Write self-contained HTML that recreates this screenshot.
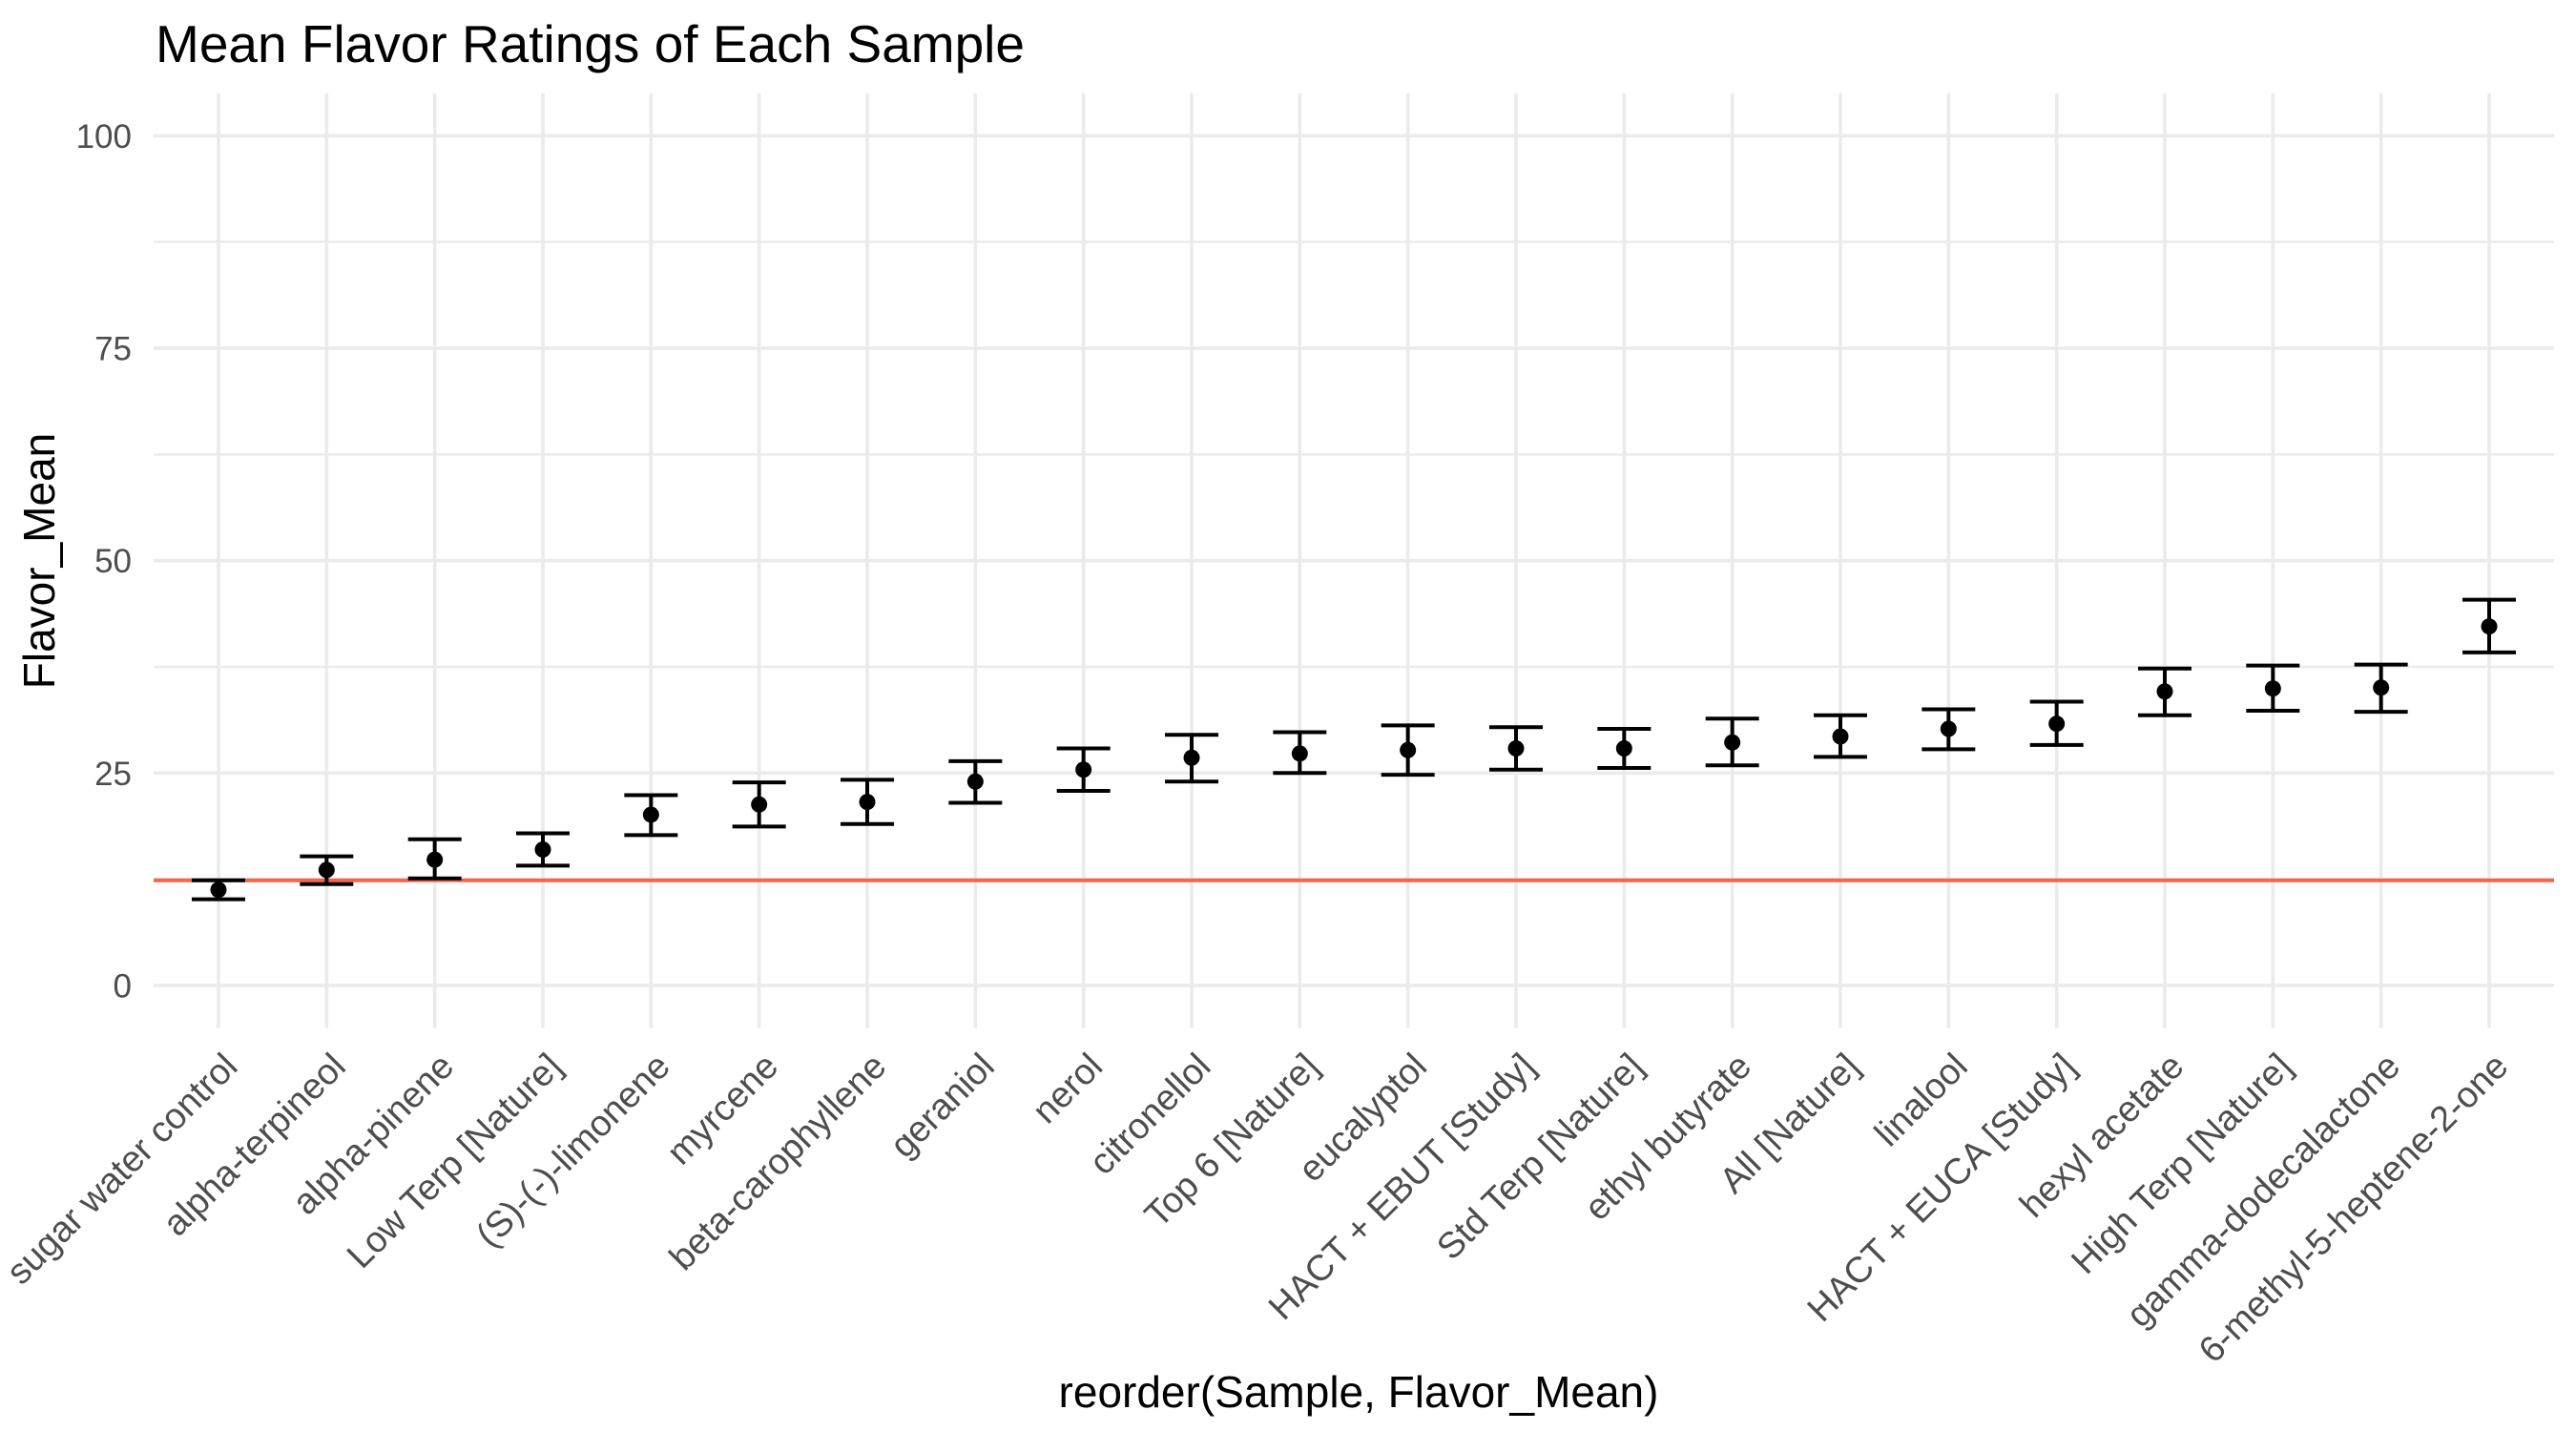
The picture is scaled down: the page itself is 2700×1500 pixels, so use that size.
<!DOCTYPE html>
<html><head><meta charset="utf-8"><style>
html,body{margin:0;padding:0;background:#fff;}
svg{display:block;font-family:"Liberation Sans",Arial,sans-serif;}
</style></head><body>
<svg id="chart" width="2700" height="1500" viewBox="0 0 2700 1500">
<text x="163" y="65" font-size="55" fill="#000">Mean Flavor Ratings of Each Sample</text>
<g id="grid"></g>
<g id="marks"></g>
<g id="labels"></g>
<text x="1424" y="1475" font-size="46" fill="#000" text-anchor="middle">reorder(Sample, Flavor_Mean)</text>
<text transform="translate(57,588) rotate(-90)" font-size="46" fill="#000" text-anchor="middle">Flavor_Mean</text>
</svg>
<script>
const categories = ["sugar water control","alpha-terpineol","alpha-pinene","Low Terp [Nature]","(S)-(-)-limonene","myrcene","beta-carophyllene","geraniol","nerol","citronellol","Top 6 [Nature]","eucalyptol","HACT + EBUT [Study]","Std Terp [Nature]","ethyl butyrate","All [Nature]","linalool","HACT + EUCA [Study]","hexyl acetate","High Terp [Nature]","gamma-dodecalactone","6-methyl-5-heptene-2-one"];
const means = [11.26,13.6,14.8,16.0,20.1,21.3,21.6,24.0,25.4,26.8,27.3,27.7,27.9,27.9,28.6,29.3,30.2,30.8,34.6,34.95,35.06,42.25];
const upper = [12.38,15.2,17.2,17.9,22.4,23.9,24.2,26.4,27.9,29.5,29.8,30.6,30.4,30.2,31.4,31.8,32.5,33.4,37.3,37.65,37.76,45.4];
const lower = [10.14,11.93,12.6,14.1,17.7,18.7,19.0,21.5,22.9,24.0,25.0,24.8,25.4,25.6,25.9,26.9,27.8,28.3,31.8,32.33,32.2,39.2];
const yTicks = [0,25,50,75,100];
const yMinor = [12.5,37.5,62.5,87.5];
const refLine = [12.38];

const NS="http://www.w3.org/2000/svg";
const L=161,R=2677,T=97.8,B=1077.5;
const n=categories.length;
function xs(i){return L+(i+0.6)*(R-L)/(n-1+1.2);}
function ys(v){return B-(v+5)*(B-T)/110;}
function mk(tag,attrs,parent){const e=document.createElementNS(NS,tag);for(const k in attrs)e.setAttribute(k,attrs[k]);parent.appendChild(e);return e;}
const grid=document.getElementById('grid'),marks=document.getElementById('marks'),labels=document.getElementById('labels');
yMinor.forEach(v=>{const e=mk('line',{x1:L,x2:R,y1:ys(v),y2:ys(v),stroke:'#ebebeb','stroke-width':2.5},grid);

});
yTicks.forEach(v=>{const e=mk('line',{x1:L,x2:R,y1:ys(v),y2:ys(v),stroke:'#ebebeb','stroke-width':3.6},grid);


const t=mk('text',{x:138,y:ys(v)+12.5,'font-size':35,fill:'#4d4d4d','text-anchor':'end'},labels);t.textContent=v;

});
categories.forEach((c,i)=>{const x=xs(i);
const g=mk('line',{x1:x,x2:x,y1:T,y2:B,stroke:'#ebebeb','stroke-width':3.6},grid);


const t=mk('text',{transform:`translate(${x+22},1120) rotate(-45)`,'font-size':38,fill:'#4d4d4d','text-anchor':'end'},labels);t.textContent=c;

});
refLine.forEach(v=>{const e=mk('line',{x1:L,x2:R,y1:ys(v),y2:ys(v),stroke:'#f9634a','stroke-width':4},marks);

});
const hw=0.247*(R-L)/(n-1+1.2);
categories.forEach((c,i)=>{const x=xs(i);
const g=mk('g',{},marks);


mk('line',{x1:x,x2:x,y1:ys(upper[i]),y2:ys(lower[i]),stroke:'#000','stroke-width':4},g);
mk('line',{x1:x-hw,x2:x+hw,y1:ys(upper[i]),y2:ys(upper[i]),stroke:'#000','stroke-width':4},g);
mk('line',{x1:x-hw,x2:x+hw,y1:ys(lower[i]),y2:ys(lower[i]),stroke:'#000','stroke-width':4},g);
const p=mk('circle',{cx:x,cy:ys(means[i]),r:8.5,fill:'#000'},marks);

});
</script>
</body></html>
